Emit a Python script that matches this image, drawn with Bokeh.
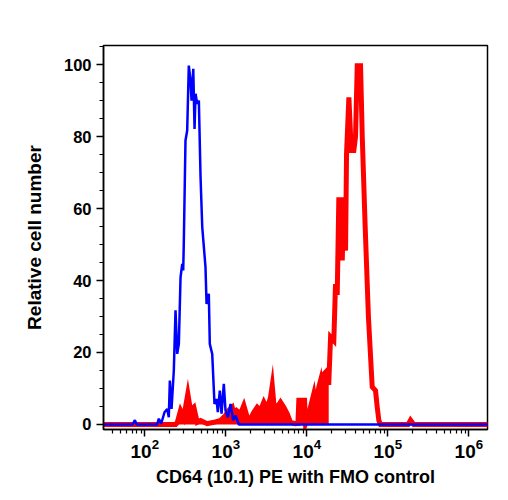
import numpy as np
from bokeh.plotting import figure
from bokeh.models import Range1d, FixedTicker
from bokeh.embed import file_html
from bokeh.resources import INLINE

# ---- data (x as log10 of fluorescence intensity, y as relative cell number) ----
fmo_log = [1.40, 1.85, 1.877, 1.90, 2.14, 2.153, 2.173, 2.202, 2.243, 2.277, 2.296, 2.309,
           2.330, 2.358, 2.379, 2.400, 2.420, 2.441, 2.462, 2.474, 2.481, 2.502, 2.523,
           2.543, 2.564, 2.577, 2.598, 2.614, 2.626, 2.647, 2.667, 2.688, 2.709, 2.749,
           2.762, 2.790, 2.802, 2.832, 2.860, 2.885, 2.901, 2.926, 2.947, 2.975, 2.996,
           3.025, 3.058, 3.091, 3.120, 3.160, 6.30]
fmo_cells = [0, 0, 1.2, 0, 0, 0, 1.6, 0.2, 3.4, 4.3, 2.0, 12.2,
             4.3, 15.0, 31.7, 19.6, 22.4, 40.9, 44.6, 42.8, 50.2, 78.9, 81.7,
             99.7, 95.6, 90.0, 98.8, 82.1, 91.9, 89.1, 90.0, 68.7, 54.8, 43.7,
             33.5, 36.3, 22.4, 19.6, 5.7, 7.1, 3.4, 9.4, 3.0, 11.3, 3.9,
             2.0, 5.7, 1.1, 2.5, 0, 0]

cd64_log = [1.40, 2.38, 2.400, 2.441, 2.481, 2.531, 2.564, 2.605, 2.647, 2.688, 2.770,
            2.852, 2.935, 2.996, 3.037, 3.079, 3.099, 3.132, 3.181, 3.222, 3.264, 3.305,
            3.346, 3.388, 3.428, 3.469, 3.511, 3.552, 3.573, 3.593, 3.635, 3.675, 3.716,
            3.758, 3.799, 3.860, 3.890, 3.901, 3.972, 3.984, 4.025, 4.086, 4.107, 4.148,
            4.169, 4.190, 4.210, 4.252, 4.270, 4.293, 4.333, 4.354, 4.375, 4.395, 4.416,
            4.437, 4.457, 4.478, 4.490, 4.519, 4.548, 4.580, 4.601, 4.622, 4.663, 4.684,
            4.720, 4.760, 4.807, 4.848, 4.869, 4.889, 4.910, 5.25, 5.28, 5.32, 6.30]
cd64_cells = [0, 0, 0.5, 3.9, 2.0, 8.5, 3.9, 4.8, 0.6, 1.1, 0.2,
              0.6, 1.1, 2.5, 3.9, 4.8, 3.0, 3.9, 3.0, 5.3, 2.0, 1.6,
              3.4, 4.8, 3.9, 6.2, 4.3, 7.6, 10.8, 5.7, 4.8, 6.2, 4.8,
              3.0, 0.6, 0.2, 0.3, 6.7, 6.7, 0.3, 3.0, 8.5, 5.0, 10.4,
              12.2, 8.0, 14.0, 15.0, 11.0, 24.3, 23.3, 39.0, 36.0, 63.1, 50.0,
              45.6, 63.1, 48.3, 75.2, 90.9, 76.1, 76.1, 80.0, 99.7, 99.7, 80.0,
              55.0, 30.0, 10.4, 9.4, 4.8, 1.1, 0, 0, 1.2, 0, 0]

x_major = [1e2, 1e3, 1e4, 1e5, 1e6]
y_major = [0, 20, 40, 60, 80, 100]

fmo_x = 10 ** np.array(fmo_log)
cd64_x = 10 ** np.array(cd64_log)
cd64_y = np.array(cd64_cells)

p = figure(width=508, height=500, x_axis_type="log",
           x_range=Range1d(10 ** 1.49, 10 ** 6.23), y_range=Range1d(-1.4, 105.3),
           output_backend="svg", toolbar_location=None,
           min_border_left=103, min_border_right=21, min_border_top=45, min_border_bottom=71)

p.xgrid.visible = False
p.ygrid.visible = False
p.outline_line_color = "black"
p.outline_line_width = 1.5
p.background_fill_color = "white"
p.border_fill_color = "white"

# red (CD64) : low-level fill + thick outline
low = np.array(cd64_log) <= 4.29
p.varea(x=cd64_x[low], y1=0, y2=cd64_y[low], fill_color="#ff0000")
p.line(cd64_x, cd64_y, line_color="#ff0000", line_width=5, line_join="miter")
# blue (FMO control)
p.line(fmo_x, fmo_cells, line_color="#0000ff", line_width=2.5)

minor_x = [k * 10 ** d for d in range(1, 7) for k in range(2, 10)]
p.xaxis.ticker = FixedTicker(ticks=x_major, minor_ticks=minor_x)
p.yaxis.ticker = FixedTicker(ticks=y_major, minor_ticks=list(range(0, 106, 5)))

for ax in (p.xaxis, p.yaxis):
    ax.axis_line_width = 1.5
    ax.major_tick_line_width = 1.5
    ax.minor_tick_line_width = 1.2
    ax.major_tick_in = 0
    ax.major_tick_out = 7
    ax.minor_tick_in = 0
    ax.minor_tick_out = 4
    ax.major_label_text_font = "Liberation Sans"
    ax.major_label_text_font_style = "bold"
    ax.major_label_text_color = "black"
    ax.axis_label_text_font = "Liberation Sans"
    ax.axis_label_text_font_style = "bold"
    ax.axis_label_text_color = "black"

p.xaxis.major_label_text_font_size = "19px"
p.yaxis.major_label_text_font_size = "16.5px"
p.xaxis.major_label_standoff = 2
p.yaxis.major_label_standoff = 5
p.xaxis.axis_label = "CD64 (10.1) PE with FMO control"
p.yaxis.axis_label = "Relative cell number"
p.xaxis.axis_label_text_font_size = "18px"
p.yaxis.axis_label_text_font_size = "19px"
p.xaxis.axis_label_standoff = 6
p.yaxis.axis_label_standoff = 16

open("out.html", "w").write(file_html(p, INLINE))
